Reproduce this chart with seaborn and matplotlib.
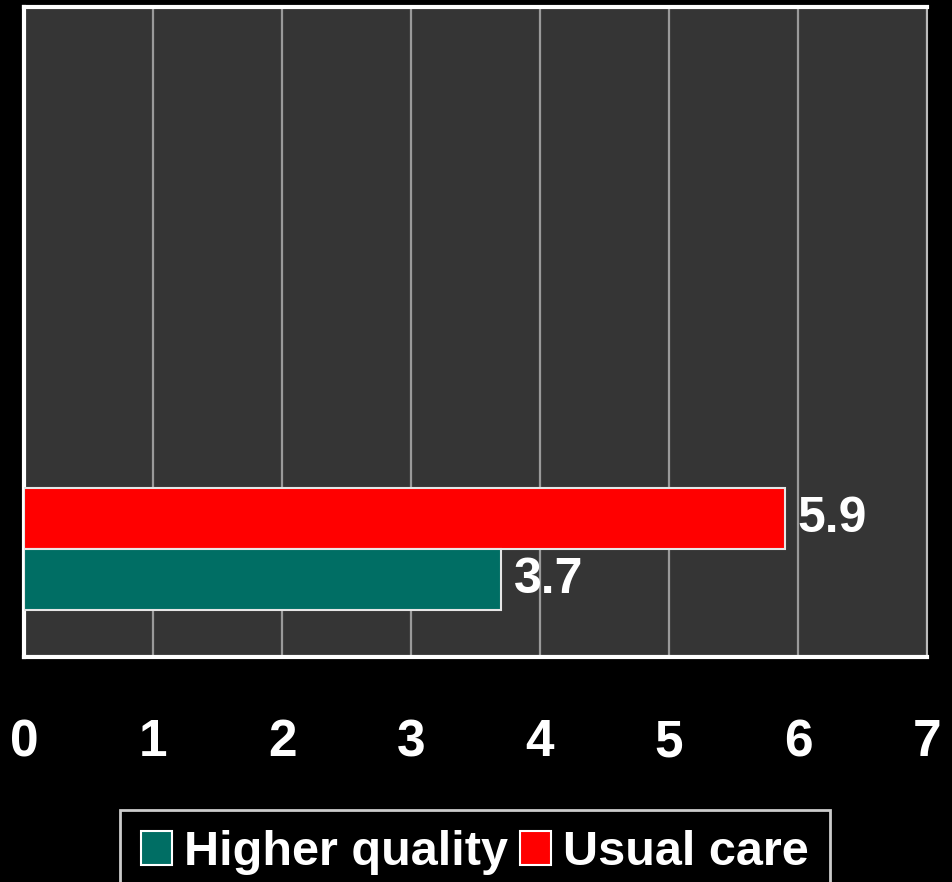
import matplotlib
matplotlib.use("Agg")
import matplotlib.pyplot as plt
import seaborn as sns
import pandas as pd
from matplotlib.patches import Patch

groups = ["Usual care", "Higher quality"]
values = [5.9, 3.7]
category = ["All"]
colors = {"Higher quality": "#006e64", "Usual care": "#ff0000"}
xticks = [0, 1, 2, 3, 4, 5, 6, 7]
legend_order = ["Higher quality", "Usual care"]

df = pd.DataFrame({"cat": category * len(groups), "group": groups, "value": values})

sns.set_style("dark")
plt.rcParams["font.family"] = ["Liberation Sans", "DejaVu Sans"]
plt.rcParams["font.weight"] = "bold"

fig = plt.figure(figsize=(9.53, 8.82), dpi=100, facecolor="black")
ax = fig.add_axes([0.0252, 0.2551, 0.9475, 0.7370])
ax.set_facecolor("#353535")

sns.barplot(data=df, x="value", y="cat", hue="group", hue_order=groups,
            palette=colors, saturation=1, orient="h", width=0.8, ax=ax,
            edgecolor="#e6e6e6", linewidth=1.5, legend=False, zorder=3)

ax.set_xlim(0, 7)
ax.set_ylim(0.708, -3.555)
ax.set_xticks(xticks)
ax.set_xticklabels([str(t) for t in xticks], fontsize=37, fontweight="bold", color="white")
ax.tick_params(axis="x", length=0, pad=44)
ax.set_yticks([])
ax.set_xlabel("")
ax.set_ylabel("")
ax.grid(axis="x", color="#9a9a9a", linewidth=1.6, zorder=0)
ax.grid(axis="y", visible=False)
ax.set_axisbelow(True)

for side in ["left", "bottom", "top"]:
    ax.spines[side].set_visible(True)
    ax.spines[side].set_color("white")
    ax.spines[side].set_linewidth(3)
ax.spines["right"].set_visible(True)
ax.spines["right"].set_color("#bbbbbb")
ax.spines["right"].set_linewidth(1.5)

for cont in ax.containers:
    ax.bar_label(cont, labels=[f"{v:.1f}" for v in cont.datavalues], padding=9,
                 fontsize=36, fontweight="bold", color="white")

handles = [Patch(facecolor=colors[g], edgecolor="white", linewidth=1.5) for g in legend_order]
leg = fig.legend(handles, legend_order, loc="upper center", bbox_to_anchor=(0.4984, 1 - 810 / 882),
                 ncol=2, frameon=True, fancybox=False, facecolor="black", edgecolor="white",
                 prop={"size": 35, "weight": "bold"}, labelcolor="white",
                 handlelength=0.64, handleheight=0.70, handletextpad=0.25, columnspacing=0.25,
                 borderpad=0.42, borderaxespad=0.0)
leg.get_frame().set_linewidth(2)

fig.savefig("out.png", dpi=100, facecolor="black")
